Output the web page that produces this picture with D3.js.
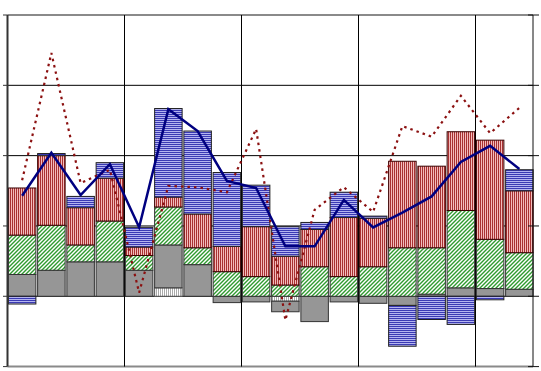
<!DOCTYPE html>
<html><head><meta charset="utf-8">
<script src="https://cdn.jsdelivr.net/npm/d3@7"></script>
<style>html,body{margin:0;padding:0;background:#fff;}svg{display:block;}</style>
</head><body>
<svg id="c" width="541" height="371"></svg>
<script>
const categories = ["1","2","3","4","5","6","7","8","9","10","11","12","13","14","15","16","17","18"];
const lightVals = [0,0,0,0,0,1.2,0,0,0,-0.7,0,0,0,0,0,0,0,0];
const grayVals  = [3.1,3.7,4.9,4.9,3.7,6.1,4.5,-0.9,-0.8,-1.5,-3.6,-0.8,-1.0,-1.3,0.3,1.2,1.1,1.0];
const greenVals = [5.6,6.4,2.4,5.8,2.1,5.4,2.4,3.5,2.8,1.6,4.2,2.8,4.2,6.9,6.6,11.0,7.0,5.2];
const redVals   = [6.7,9.9,5.3,6.1,1.2,1.4,4.8,3.6,7.1,4.1,5.3,8.4,6.9,12.3,11.6,11.2,14.1,8.8];
const blueVals  = [-1.1,0.3,1.6,2.2,2.8,12.6,11.8,10.5,5.9,4.2,1.0,3.6,0.3,-5.8,-3.3,-4.0,-0.5,3.0];
const totalLine = [14.3,20.4,14.4,18.8,9.8,26.6,23.5,16.4,15.4,7.1,7.1,13.7,9.8,11.9,14.2,19.1,21.4,18.1];
const dottedLine = [16.5,34.6,16.1,18.0,0.5,15.7,15.5,14.8,23.8,-3.4,12.3,15.5,12.0,24.2,22.7,28.5,23.2,26.8];
const yTicks = [-10,0,10,20,30,40];

const svg = d3.select("#c");
const defs = svg.append("defs");
function stripePattern(id, w, h, bg, draw){
  const p = defs.append("pattern").attr("id",id).attr("patternUnits","userSpaceOnUse").attr("width",w).attr("height",h);
  p.append("rect").attr("width",w).attr("height",h).attr("fill",bg);
  draw(p);
}
stripePattern("pGreen",4,4,"#ffffff",p=>{
  p.append("path").attr("d","M-1,1 L1,-1 M0,4 L4,0 M3,5 L5,3").attr("stroke","#2f9a2f").attr("stroke-width",1.4);
});
stripePattern("pRed",2,2,"#f3bcbc",p=>{
  p.append("rect").attr("x",0).attr("y",0).attr("width",1).attr("height",2).attr("fill","#a83232");
});
stripePattern("pBlue",2,2,"#b4b4f0",p=>{
  p.append("rect").attr("x",0).attr("y",0).attr("width",2).attr("height",1).attr("fill","#3a3ab4");
});
stripePattern("pLight",2,2,"#ffffff",p=>{
  p.append("rect").attr("x",0).attr("y",0).attr("width",1).attr("height",2).attr("fill","#aaaaaa");
});

const x = d3.scaleBand().domain(categories).range([7.5,534]).paddingInner(0.06).paddingOuter(0.03);
const y = d3.scaleLinear().domain([-10,40]).range([366.6,15]);
const step = x.step();

// gridlines
const g = svg.append("g");
g.selectAll("line.h").data(yTicks).join("line")
  .attr("x1",7.5).attr("x2",533).attr("y1",d=>y(d)).attr("y2",d=>y(d))
  .attr("stroke",d=>(d===40||d===-10)?"#8a8a8a":"#000").attr("stroke-width",d=>(d===40||d===-10)?2:1);
const vIdx = [4,8,12,16];
g.selectAll("line.v").data(vIdx).join("line")
  .attr("x1",i=>x(categories[i])-(step-x.bandwidth())/2).attr("x2",i=>x(categories[i])-(step-x.bandwidth())/2)
  .attr("y1",y(40)).attr("y2",y(-10)).attr("stroke","#000").attr("stroke-width",1);

// stacked bars
const keys = ["light","gray","green","red","blue"];
const rows = categories.map((c,i)=>({cat:c, light:lightVals[i], gray:grayVals[i], green:greenVals[i], red:redVals[i], blue:blueVals[i]}));
const stack = d3.stack().keys(keys).offset(d3.stackOffsetDiverging)(rows);
const fills = {light:"url(#pLight)", gray:"#969696", green:"url(#pGreen)", red:"url(#pRed)", blue:"url(#pBlue)"};
const strokes = {light:"#555", gray:"#333", green:"#333", red:"#3a0000", blue:"#222"};
svg.append("g").selectAll("g").data(stack).join("g")
  .each(function(s){
    d3.select(this).selectAll("rect").data(s.filter(d=>d[1]!==d[0])).join("rect")
      .attr("x",d=>x(d.data.cat)).attr("width",x.bandwidth())
      .attr("y",d=>y(Math.max(d[0],d[1]))).attr("height",d=>Math.abs(y(d[0])-y(d[1])))
      .attr("fill",fills[s.key]).attr("stroke",strokes[s.key]).attr("stroke-width",1);
  });

// axes lines
svg.append("line").attr("x1",7.5).attr("x2",7.5).attr("y1",y(40)).attr("y2",y(-10)).attr("stroke","#333").attr("stroke-width",2);
svg.append("line").attr("x1",533).attr("x2",533).attr("y1",y(40)).attr("y2",y(-10)).attr("stroke","#111").attr("stroke-width",1);
svg.append("g").selectAll("line").data(yTicks).join("line")
  .attr("x1",3).attr("x2",7.5).attr("y1",d=>y(d)).attr("y2",d=>y(d)).attr("stroke","#333").attr("stroke-width",1);
svg.append("g").selectAll("line").data(yTicks).join("line")
  .attr("x1",528).attr("x2",539).attr("y1",d=>y(d)).attr("y2",d=>y(d)).attr("stroke","#111").attr("stroke-width",1);

// lines
const cx = c => x(c)+x.bandwidth()/2;
const lineGen = d3.line().x((d,i)=>cx(categories[i])).y(d=>y(d));
svg.append("path").datum(dottedLine).attr("d",lineGen).attr("fill","none")
  .attr("stroke","#8b1010").attr("stroke-width",2.2).attr("stroke-dasharray","2.5,4");
svg.append("path").datum(totalLine).attr("d",lineGen).attr("fill","none")
  .attr("stroke","#000080").attr("stroke-width",2.5).attr("stroke-linejoin","miter");
</script>
</body></html>
